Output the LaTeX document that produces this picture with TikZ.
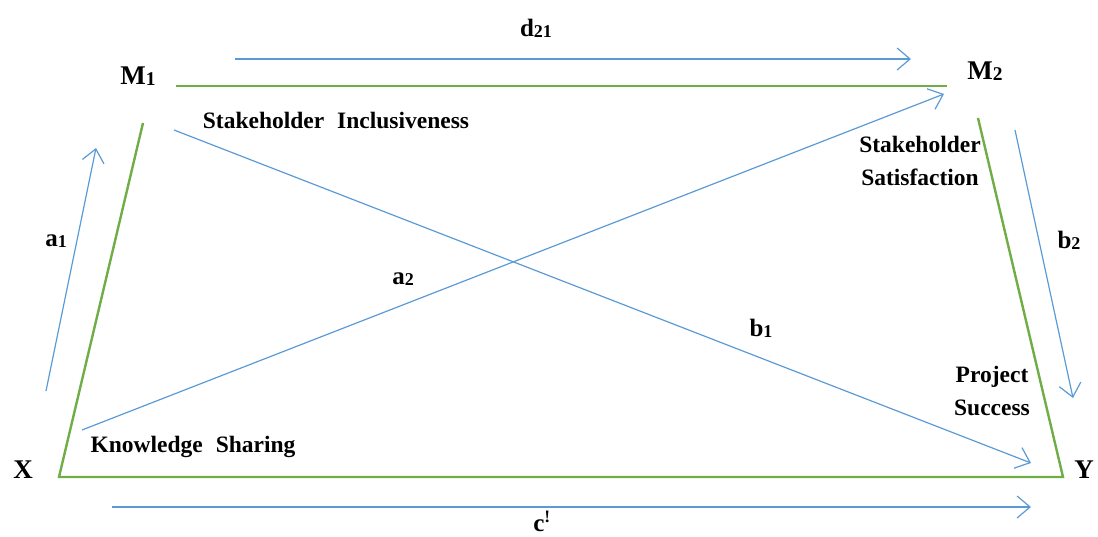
\documentclass[tikz,border=0pt]{standalone}
\usepackage{fontspec}
\setmainfont{Liberation Serif}
\usetikzlibrary{arrows.meta}
\definecolor{gline}{HTML}{70AD47}
\definecolor{bline}{HTML}{5B9BD5}
\newcommand{\mysub}[1]{\raisebox{-0.05em}{\fontsize{0.72em}{1em}\selectfont #1}}
\begin{document}
\begin{tikzpicture}[x=1pt,y=-1pt,
  frame/.style={draw=gline,line width=2.4pt,line join=miter},
  link/.style={draw=bline,line width=1.2pt,-{Straight Barb[length=13pt,width=22pt,line width=1.2pt]}},
  big/.style={font=\bfseries\fontsize{27}{30}\selectfont,inner sep=0pt},
  lab/.style={font=\bfseries\fontsize{25}{28}\selectfont,inner sep=0pt},
  txt/.style={font=\bfseries\fontsize{23.5}{33}\selectfont,inner sep=0pt,align=center}]
\useasboundingbox (0,0) rectangle (1098,537);
% frame corners
\coordinate (tl) at (176,86);
\coordinate (tr) at (947,86);
\coordinate (lt) at (143,123);
\coordinate (xc) at (59,477);
\coordinate (yc) at (1063,477);
\coordinate (rt) at (978,118);
\draw[frame] (tl) -- (tr);
\draw[frame] (lt) -- (xc) -- (yc) -- (rt);
% arrows endpoints
\coordinate (d1) at (235,59);
\coordinate (d2) at (911,59);
\coordinate (a1s) at (46,391);
\coordinate (a1e) at (96,148);
\coordinate (a2s) at (82,430);
\coordinate (a2e) at (944,94);
\coordinate (b1s) at (174,130);
\coordinate (b1e) at (1031,463);
\coordinate (b2s) at (1015,130);
\coordinate (b2e) at (1073,398);
\coordinate (cs) at (112,507);
\coordinate (ce) at (1031,507);
\draw[link] (d1) -- (d2);
\draw[link] (a1s) -- (a1e);
\draw[link] (a2s) -- (a2e);
\draw[link] (b1s) -- (b1e);
\draw[link] (b2s) -- (b2e);
\draw[link] (cs) -- (ce);
% labels
\node[big] (m1) at (138,76) {M\mysub{1}};
\node[big] (m2) at (985,71) {M\mysub{2}};
\node[big] (x) at (23,470) {X};
\node[big] (y) at (1084,470) {Y};
\node[lab] (ld) at (536,28) {d\mysub{21}};
\node[lab] (la1) at (56,241) {a\mysub{1}};
\node[lab] (la2) at (403,279) {a\mysub{2}};
\node[lab] (lb1) at (761,328) {b\mysub{1}};
\node[lab] (lb2) at (1069,240) {b\mysub{2}};
\node[lab] (lc) at (542,521) {c\textsuperscript{!}};
\node[txt] (si) at (336,120) {Stakeholder\hspace{0.55em}Inclusiveness};
\node[txt] (ss) at (920,161) {Stakeholder\\Satisfaction};
\node[txt] (ps) at (992,391) {Project\\Success};
\node[txt] (ks) at (193,447) {Knowledge\hspace{0.55em}Sharing};
\end{tikzpicture}
\end{document}
